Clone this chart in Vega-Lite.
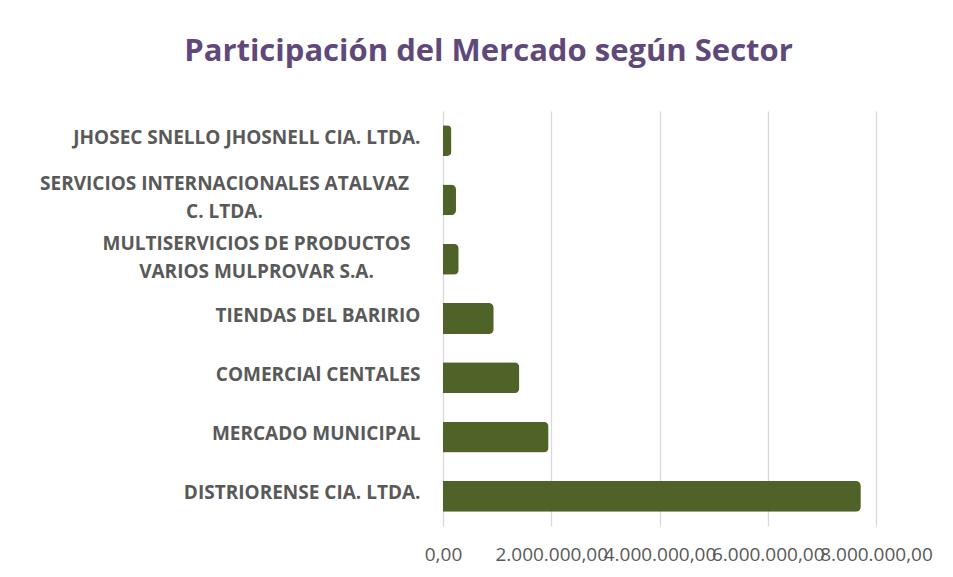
{
  "$schema": "https://vega.github.io/schema/vega-lite/v6.json",
  "width": 433,
  "height": 415,
  "autosize": {"type": "none"},
  "padding": {"left": 443, "top": 111, "right": 77, "bottom": 51},
  "background": "white",
  "title": {
    "text": "Participación del Mercado según Sector",
    "font": "Open Sans",
    "fontSize": 31,
    "fontWeight": "bold",
    "color": "#5F497A",
    "anchor": "middle",
    "frame": "group",
    "dx": -171,
    "baseline": "alphabetic",
    "offset": 19
  },
  "config": {
    "locale": {"number": {"decimal": ",", "thousands": ".", "grouping": [3], "currency": ["$", ""]}},
    "view": {"stroke": null}
  },
  "data": {
    "values": [
      {"sector": "JHOSEC SNELLO JHOSNELL CIA. LTDA.", "valor": 155000, "orden": 1},
      {"sector": "SERVICIOS INTERNACIONALES ATALVAZ|C. LTDA.", "valor": 240000, "orden": 2},
      {"sector": "MULTISERVICIOS DE PRODUCTOS|VARIOS MULPROVAR S.A.", "valor": 290000, "orden": 3},
      {"sector": "TIENDAS DEL BARIRIO", "valor": 937000, "orden": 4},
      {"sector": "COMERCIAl CENTALES", "valor": 1410000, "orden": 5},
      {"sector": "MERCADO MUNICIPAL", "valor": 1950000, "orden": 6},
      {"sector": "DISTRIORENSE CIA. LTDA.", "valor": 7720000, "orden": 7}
    ]
  },
  "mark": {"type": "bar", "color": "#4F6228", "cornerRadiusEnd": 5},
  "encoding": {
    "y": {
      "field": "sector",
      "type": "nominal",
      "sort": {"field": "orden", "order": "ascending"},
      "scale": {"paddingInner": 0.48, "paddingOuter": 0.24},
      "axis": {
        "title": null,
        "domain": false,
        "ticks": false,
        "labelExpr": "split(datum.label, '|')",
        "labelFont": "Open Sans",
        "labelFontSize": 19,
        "labelFontWeight": "bold",
        "labelColor": "#595959",
        "labelLimit": 500,
        "labelLineHeight": 28,
        "labelOffset": {"condition": {"test": "indexof(datum.label, '|') >= 0", "value": -15.5}, "value": -3},
        "labelAlign": {"condition": {"test": "indexof(datum.label, '|') >= 0", "value": "center"}, "value": "right"},
        "labelPadding": {
          "condition": [
            {"test": "indexof(datum.label, 'SERVICIOS INT') >= 0", "value": 219},
            {"test": "indexof(datum.label, 'MULTI') >= 0", "value": 187}
          ],
          "value": 23
        }
      }
    },
    "x": {
      "field": "valor",
      "type": "quantitative",
      "scale": {"domain": [0, 8000000], "nice": false},
      "axis": {
        "title": null,
        "values": [0, 2000000, 4000000, 6000000, 8000000],
        "format": ",.2f",
        "labelOverlap": false,
        "labelFlush": false,
        "labelFont": "Open Sans",
        "labelFontSize": 19,
        "labelColor": "#595959",
        "labelPadding": 19,
        "domain": false,
        "ticks": false,
        "grid": true,
        "gridColor": "#D9D9D9",
        "gridWidth": 1.3
      }
    }
  }
}
